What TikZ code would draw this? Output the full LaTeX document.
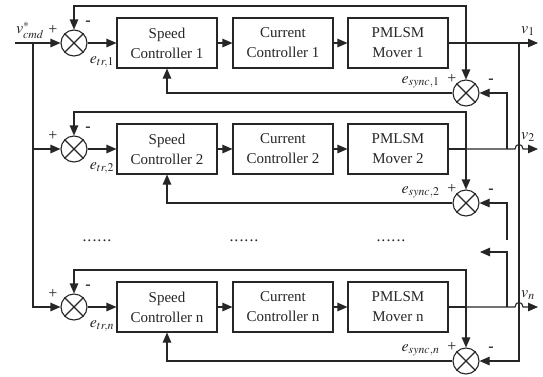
\documentclass[tikz,border=0pt]{standalone}
\usepackage{mathptmx}
\usepackage{fontspec}
\setmainfont{Liberation Serif}
\usetikzlibrary{arrows.meta}
\begin{document}
\begin{tikzpicture}[x=1pt,y=-1pt,line width=1.1pt,color=black!85,
  >={Triangle[length=10pt,width=8.5pt]},
  blk/.style={draw,minimum width=100pt,minimum height=50pt,align=center,inner sep=0pt,
    font=\fontsize{15}{20}\selectfont},
  sumnode/.style={draw,circle,minimum size=26pt,inner sep=0pt},
  lbl/.style={inner sep=0pt,font=\fontsize{16}{18}\selectfont},
  sgn/.style={inner sep=0pt,font=\fontsize{16}{18}\selectfont}]
\useasboundingbox (0,0) rectangle (543,376);
\foreach \i/\y/\s/\t/\n in {1/43/93/6/1,2/149/203/112/2,3/307/361/270/n}{
  \node[sumnode] (t\i) at (74,\y) {};
  \draw (t\i.north west) -- (t\i.south east) (t\i.north east) -- (t\i.south west);
  \node[blk] (sp\i) at (167,\y) {Speed\\Controller \n};
  \node[blk] (cc\i) at (283,\y) {Current\\Controller \n};
  \node[blk] (mv\i) at (398,\y) {PMLSM\\Mover \n};
  \node[sumnode] (s\i) at (466,\s) {};
  \draw (s\i.north west) -- (s\i.south east) (s\i.north east) -- (s\i.south west);
  \coordinate (tp\i) at (466,\y);
  \draw[->] (t\i) -- (sp\i);
  \draw[->] (sp\i) -- (cc\i);
  \draw[->] (cc\i) -- (mv\i);
  \draw (mv\i) -- (tp\i);
  \draw[->] (tp\i) -- (466,\t) -| (t\i);
  \draw[->] (tp\i) -- (s\i);
  \draw[->] (s\i) -| (sp\i);
  \node[sgn] (tplus\i) at (53,\y-13) {+};
  \node[sgn] (tminus\i) at (88,\y-20) {\textbf{-}};
  \node[lbl] (etr\i) at (102,\y+19) {$e_{tr,\n}$};
  \node[sgn] (splus\i) at (452,\s-14) {+};
  \node[sgn] (sminus\i) at (491,\s-12) {\textbf{-}};
  \node[lbl,anchor=east] (es\i) at (440,\s-11) {$e_{sync,\n}$};
  \node[lbl] (v\i) at (528,\y-12) {$v_{\n}$};
}
% input
\coordinate (in) at (15,43);
\coordinate (j0) at (33,43);
\coordinate (j2) at (33,149);
\node[lbl] (vin) at (30,30) {$v^{*}_{cmd}$};
\draw[->] (in) -- (t1);
\draw[->] (j0) |- (t3);
\draw[->] (j2) -- (t2);
% outputs
\coordinate (o1) at (538,43);
\coordinate (o2) at (538,149);
\coordinate (o3) at (538,307);
\draw[->] (tp1) -- (o1);
\draw[->] (tp2) -- (515,149) .. controls (515,143) and (523,143) .. (523,149) -- (o2);
\draw[->] (tp3) -- (515,307) .. controls (515,301) and (523,301) .. (523,307) -- (o3);
% right taps
\coordinate (a1) at (519,43);
\coordinate (a3) at (519,361);
\draw[->] (a1) -- (a3) -- (s3);
\coordinate (b2) at (507,149);
\draw[->] (b2) |- (s1);
\coordinate (c2) at (507,240);
\draw[->] (c2) |- (s2);
\coordinate (b3) at (507,307);
\coordinate (c3) at (480,252);
\draw[->] (b3) |- (c3);
% dots
\node[lbl] (d1) at (97,241) {.\kern1pt.\kern1pt.\kern1pt.\kern1pt.\kern1pt.};
\node[lbl] (d2) at (244,241) {.\kern1pt.\kern1pt.\kern1pt.\kern1pt.\kern1pt.};
\node[lbl] (d3) at (391,241) {.\kern1pt.\kern1pt.\kern1pt.\kern1pt.\kern1pt.};
\end{tikzpicture}
\end{document}
